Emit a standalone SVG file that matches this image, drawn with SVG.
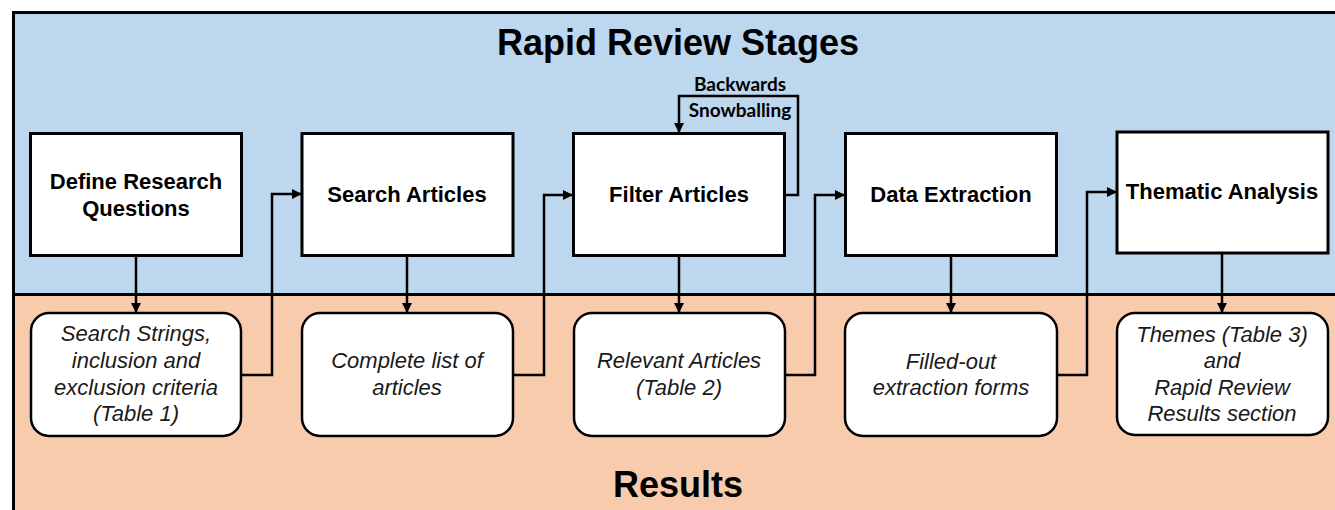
<svg xmlns="http://www.w3.org/2000/svg" width="1335" height="510" viewBox="0 0 1335 510">
<style>
.stage{fill:#fff;stroke:#000;stroke-width:3}
.res{fill:#fff;stroke:#000;stroke-width:2.5}
.st{font-family:"Liberation Sans",Arial,sans-serif;font-weight:bold;font-size:22px;text-anchor:middle;fill:#000}
.rt{font-family:"Liberation Sans",Arial,sans-serif;font-style:italic;font-size:22px;text-anchor:middle;fill:#1a1a1a}
.title{font-family:"Liberation Sans",Arial,sans-serif;font-weight:bold;font-size:36px;text-anchor:middle;fill:#000}
.lbl{font-family:Lato,"Liberation Sans",sans-serif;font-weight:bold;font-size:19px;text-anchor:middle;fill:#000}
.c{fill:none;stroke:#000;stroke-width:2.5}
</style>
<defs>
<marker id="arr" viewBox="0 0 10 10" refX="10" refY="5" markerWidth="4" markerHeight="4" orient="auto" markerUnits="strokeWidth">
<path d="M0,0 L10,5 L0,10 z" fill="#000"/>
</marker>
</defs>
<g id="background">
<rect x="13.5" y="12.5" width="1330" height="282" fill="#BDD7EE" stroke="#000" stroke-width="3"/>
<rect x="13.5" y="294.5" width="1330" height="230" fill="#F8CBAD" stroke="#000" stroke-width="3"/>
<text class="title" x="678" y="55">Rapid Review Stages</text>
<text class="title" x="678" y="497">Results</text>
</g>
<g id="connectors">
<path class="c" d="M136,256 V313" marker-end="url(#arr)"/>
<path class="c" d="M407,256 V313" marker-end="url(#arr)"/>
<path class="c" d="M679,256 V313" marker-end="url(#arr)"/>
<path class="c" d="M951,256 V313" marker-end="url(#arr)"/>
<path class="c" d="M1222,254 V313" marker-end="url(#arr)"/>
<path class="c" d="M241,375 H272 V194 H302" marker-end="url(#arr)"/>
<path class="c" d="M513,375 H544 V195 H573" marker-end="url(#arr)"/>
<path class="c" d="M785,375 H815 V195 H845" marker-end="url(#arr)"/>
<path class="c" d="M1057,375 H1087 V192 H1117" marker-end="url(#arr)"/>
<path class="c" d="M785,195 H798 V96 H679 V133" marker-end="url(#arr)"/>
<text class="lbl" x="740" y="91">Backwards</text>
<text class="lbl" x="740" y="117">Snowballing</text>
</g>
<g id="stage1">
<rect class="stage" x="30.5" y="133.5" width="211" height="122"/>
<text class="st" x="136" y="189">Define Research</text>
<text class="st" x="136" y="216">Questions</text>
</g>
<g id="stage2">
<rect class="stage" x="302" y="133.5" width="211" height="122"/>
<text class="st" x="407" y="202">Search Articles</text>
</g>
<g id="stage3">
<rect class="stage" x="573.5" y="133.5" width="211" height="122"/>
<text class="st" x="679" y="202">Filter Articles</text>
</g>
<g id="stage4">
<rect class="stage" x="845.5" y="133.5" width="211" height="122"/>
<text class="st" x="951" y="202">Data Extraction</text>
</g>
<g id="stage5">
<rect class="stage" x="1117" y="132" width="211" height="121"/>
<text class="st" x="1222" y="199">Thematic Analysis</text>
</g>
<g id="result1">
<rect class="res" x="31" y="313" width="210" height="123" rx="18"/>
<text class="rt" x="136" y="341">Search Strings,</text>
<text class="rt" x="136" y="368">inclusion and</text>
<text class="rt" x="136" y="395">exclusion criteria</text>
<text class="rt" x="136" y="421">(Table 1)</text>
</g>
<g id="result2">
<rect class="res" x="302" y="313" width="211" height="123" rx="18"/>
<text class="rt" x="407" y="368">Complete list of</text>
<text class="rt" x="407" y="395">articles</text>
</g>
<g id="result3">
<rect class="res" x="574" y="313" width="211" height="123" rx="18"/>
<text class="rt" x="679" y="368">Relevant Articles</text>
<text class="rt" x="679" y="395">(Table 2)</text>
</g>
<g id="result4">
<rect class="res" x="845" y="313" width="212" height="123" rx="18"/>
<text class="rt" x="951" y="369">Filled-out</text>
<text class="rt" x="951" y="395">extraction forms</text>
</g>
<g id="result5">
<rect class="res" x="1117" y="313" width="211" height="122" rx="18"/>
<text class="rt" x="1222" y="342">Themes (Table 3)</text>
<text class="rt" x="1222" y="368">and</text>
<text class="rt" x="1222" y="395">Rapid Review</text>
<text class="rt" x="1222" y="421">Results section</text>
</g>
</svg>
